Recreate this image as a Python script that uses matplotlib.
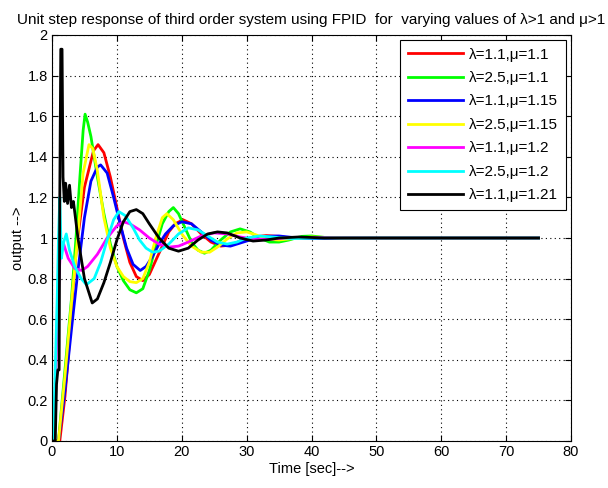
import matplotlib.pyplot as plt

plt.rcParams['font.family'] = ['Liberation Sans', 'DejaVu Sans']

labels = ['λ=1.1,μ=1.1', 'λ=2.5,μ=1.1', 'λ=1.1,μ=1.15', 'λ=2.5,μ=1.15',
          'λ=1.1,μ=1.2', 'λ=2.5,μ=1.2', 'λ=1.1,μ=1.21']
colors = ['#ff0000', '#00ff00', '#0000ff', '#ffff00', '#ff00ff', '#00ffff', '#000000']

# values (time, output)
t_red = [0, 1.2, 2, 2.5, 3.2, 3.8, 5, 6.4, 7.1, 8, 9, 10, 11, 12, 13, 14, 15, 16, 17, 18,
         19, 20.2, 21.5, 23, 24.5, 26, 27.5, 29, 31, 33, 35, 37, 40, 45, 75]
y_red = [0, 0, 0.22, 0.41, 0.74, 0.96, 1.25, 1.43, 1.46, 1.42, 1.3, 1.15, 1.0, 0.88, 0.81, 0.79,
         0.82, 0.89, 0.96, 1.03, 1.07, 1.09, 1.07, 1.02, 0.98, 0.96, 0.965, 0.985, 1.005, 1.012,
         1.008, 0.998, 0.997, 1.0, 1.0]

t_green = [0, 1.0, 2, 3, 3.7, 4.3, 4.8, 5.1, 5.5, 6, 7, 8, 9, 10, 11, 12, 13, 14, 15, 16, 17,
           18, 18.7, 19.5, 20.5, 21.5, 22.5, 23.5, 24.5, 26, 27.5, 29, 30.5, 32, 33.5, 35, 36.5,
           38.5, 40, 42, 45, 50, 75]
y_green = [0, 0, 0.35, 0.7, 1.0, 1.3, 1.53, 1.61, 1.57, 1.5, 1.3, 1.12, 0.97, 0.86, 0.79, 0.745,
           0.73, 0.75, 0.84, 0.96, 1.07, 1.13, 1.15, 1.12, 1.05, 0.98, 0.94, 0.925, 0.94, 0.99,
           1.03, 1.045, 1.03, 1.0, 0.98, 0.98, 0.99, 1.008, 1.01, 1.003, 0.998, 1.0, 1.0]

t_blue = [0, 1.0, 2, 3, 4, 5, 6, 7, 7.5, 8.5, 9.5, 10.5, 11.5, 12.5, 13.6, 14.5, 15.5, 16.5,
          17.5, 18.7, 20, 21.5, 23, 24.5, 26, 27.5, 29, 31, 33, 35, 37, 40, 45, 75]
y_blue = [0, 0, 0.25, 0.55, 0.84, 1.1, 1.28, 1.35, 1.36, 1.32, 1.2, 1.07, 0.95, 0.87, 0.84, 0.86,
          0.91, 0.97, 1.02, 1.06, 1.08, 1.07, 1.03, 0.99, 0.965, 0.96, 0.975, 0.995, 1.008, 1.01,
          1.003, 0.997, 1.0, 1.0]

t_yellow = [0, 1.0, 2, 3, 4, 4.8, 5.7, 6.3, 7, 8, 9, 10, 11, 12, 13, 14, 15, 16, 17, 17.7,
            18.7, 20, 21.5, 23, 24.3, 25.5, 27, 28.5, 30, 31.5, 33, 35, 37, 40, 45, 75]
y_yellow = [0, 0, 0.32, 0.68, 1.02, 1.32, 1.46, 1.44, 1.33, 1.1, 0.95, 0.86, 0.81, 0.785, 0.78,
            0.8, 0.88, 1.0, 1.1, 1.12, 1.09, 1.02, 0.96, 0.93, 0.93, 0.955, 0.995, 1.025, 1.03,
            1.015, 0.995, 0.99, 0.997, 1.005, 1.0, 1.0]

t_magenta = [0, 0.3, 0.8, 1.3, 1.8, 2.5, 3.5, 4.6, 5.5, 7, 8.5, 10, 11, 12, 13.5, 15, 16.5, 18,
             19.5, 21, 23, 25, 27, 29, 31, 33, 36, 40, 45, 75]
y_magenta = [0, 0, 0.6, 0.95, 0.97, 0.9, 0.85, 0.84, 0.86, 0.92, 1.0, 1.06, 1.08, 1.07, 1.04,
             1.0, 0.97, 0.955, 0.96, 0.98, 1.01, 1.025, 1.02, 1.005, 0.995, 0.993, 1.0, 1.003,
             1.0, 1.0]

t_cyan = [0, 0.2, 0.5, 0.8, 1.0, 1.2, 1.45, 1.8, 2.2, 2.7, 3.5, 4.5, 5.3, 6.5, 7.5, 8.5, 9.5,
          10.3, 11.3, 12.5, 13.5, 14.5, 15.5, 16.5, 18, 19.5, 21, 22.5, 24, 25.5, 27, 28.5, 30,
          32, 34, 37, 42, 75]
y_cyan = [0, 0, 0.35, 0.7, 1.0, 1.2, 0.9, 0.98, 1.02, 0.94, 0.86, 0.8, 0.77, 0.8, 0.88, 0.99,
          1.09, 1.13, 1.11, 1.05, 0.99, 0.95, 0.93, 0.935, 0.97, 1.02, 1.05, 1.04, 1.01, 0.98,
          0.97, 0.98, 1.0, 1.01, 1.005, 0.997, 1.0, 1.0]

t_black = [0, 0.5, 0.7, 0.9, 1.1, 1.2, 1.35, 1.55, 1.7, 1.9, 2.1, 2.4, 2.7, 3.0, 3.3, 4, 5, 6.2,
           7, 8, 9, 10, 11, 12, 13, 14, 15, 16.5, 18, 19.5, 21, 22.5, 24, 25.5, 27, 29, 31, 33,
           35, 38, 42, 75]
y_black = [0, 0, 0.28, 0.35, 0.35, 1.2, 1.93, 1.93, 1.3, 1.18, 1.27, 1.17, 1.26, 1.15, 1.18, 1.0,
           0.8, 0.68, 0.7, 0.78, 0.88, 0.99, 1.08, 1.13, 1.14, 1.12, 1.07, 1.0, 0.95, 0.935, 0.95,
           0.99, 1.02, 1.03, 1.025, 1.0, 0.985, 0.99, 1.0, 1.005, 1.0, 1.0]

series = [(t_red, y_red), (t_green, y_green), (t_blue, y_blue), (t_yellow, y_yellow),
          (t_magenta, y_magenta), (t_cyan, y_cyan), (t_black, y_black)]

fig = plt.figure(figsize=(6.08, 4.88), dpi=100)
ax = fig.add_axes([52 / 608, 1 - 441 / 488, 519 / 608, 406 / 488])

for (t, y), c, lab in zip(series, colors, labels):
    ax.plot(t, y, color=c, lw=2, label=lab)

ax.set_xlim(0, 80)
ax.set_ylim(0, 2)
ax.set_xticks(range(0, 81, 10))
ax.set_yticks([0, 0.2, 0.4, 0.6, 0.8, 1, 1.2, 1.4, 1.6, 1.8, 2])
ax.set_yticklabels(['0', '0.2', '0.4', '0.6', '0.8', '1', '1.2', '1.4', '1.6', '1.8', '2'])
ax.tick_params(direction='in', top=True, right=True, length=4, labelsize=10.5, pad=3)
ax.grid(True, color='black', linestyle=(0, (1, 3)), lw=0.8)
for s in ax.spines.values():
    s.set_linewidth(0.8)

ax.set_title('Unit step response of third order system using FPID  for  varying values of λ>1 and μ>1',
             fontsize=11, pad=8)
ax.set_xlabel('Time [sec]-->', fontsize=10.5, labelpad=2)
ax.set_ylabel('output -->', fontsize=10.5, labelpad=2)

leg = ax.legend(loc='upper right', bbox_to_anchor=(0.99, 0.988), fontsize=11,
                fancybox=False, framealpha=1, edgecolor='black', borderpad=0.5,
                labelspacing=0.62, handlelength=3.6, handletextpad=0.4, borderaxespad=0)
leg.get_frame().set_linewidth(0.8)

fig.savefig('out.png', dpi=100)
